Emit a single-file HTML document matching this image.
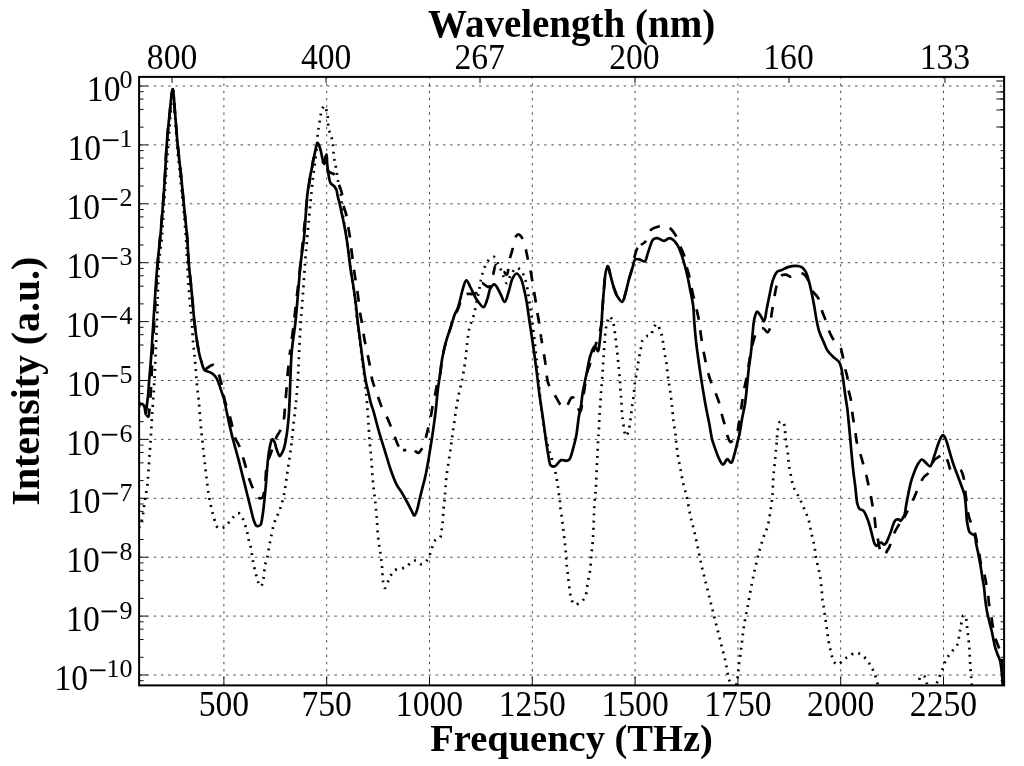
<!DOCTYPE html><html><head><meta charset="utf-8"><style>html,body{margin:0;padding:0;background:#fff;overflow:hidden}svg{display:block;will-change:transform}text{font-family:"Liberation Serif",serif;fill:#000}</style></head><body>
<svg width="1024" height="766" viewBox="0 0 1024 766">
<rect width="1024" height="766" fill="#fff"/>
<defs><clipPath id="pc"><rect x="139.1" y="76.9" width="865.0" height="608.5"/></clipPath></defs>
<path d="M223.90,685.4V76.9M326.70,685.4V76.9M429.50,685.4V76.9M532.30,685.4V76.9M635.10,685.4V76.9M737.90,685.4V76.9M840.70,685.4V76.9M943.50,685.4V76.9" stroke="#000" stroke-opacity="0.7" stroke-width="1" stroke-dasharray="2.5 4.73" stroke-dashoffset="0.6" fill="none"/>
<path d="M139.1,86.00H1004.1M139.1,144.90H1004.1M139.1,203.80H1004.1M139.1,262.70H1004.1M139.1,321.60H1004.1M139.1,380.50H1004.1M139.1,439.40H1004.1M139.1,498.30H1004.1M139.1,557.20H1004.1M139.1,616.10H1004.1M139.1,675.00H1004.1" stroke="#000" stroke-opacity="0.7" stroke-width="1" stroke-dasharray="2.5 4.73" stroke-dashoffset="7.05" fill="none"/>
<path d="M223.90,685.4v-8.5M326.70,685.4v-8.5M429.50,685.4v-8.5M532.30,685.4v-8.5M635.10,685.4v-8.5M737.90,685.4v-8.5M840.70,685.4v-8.5M943.50,685.4v-8.5M139.1,86.00h8.5M139.1,144.90h8.5M139.1,203.80h8.5M139.1,262.70h8.5M139.1,321.60h8.5M139.1,380.50h8.5M139.1,439.40h8.5M139.1,498.30h8.5M139.1,557.20h8.5M139.1,616.10h8.5M139.1,675.00h8.5" stroke="#000" stroke-opacity="0.95" stroke-width="1" fill="none"/>
<path d="M139.1,127.17h4.5M1004.1,127.17h-3.5M139.1,109.44h4.5M1004.1,109.44h-3.5M139.1,99.07h4.5M1004.1,99.07h-3.5M139.1,91.71h4.5M1004.1,91.71h-3.5M139.1,186.07h4.5M1004.1,186.07h-3.5M139.1,168.34h4.5M1004.1,168.34h-3.5M139.1,157.97h4.5M1004.1,157.97h-3.5M139.1,150.61h4.5M1004.1,150.61h-3.5M139.1,244.97h4.5M1004.1,244.97h-3.5M139.1,227.24h4.5M1004.1,227.24h-3.5M139.1,216.87h4.5M1004.1,216.87h-3.5M139.1,209.51h4.5M1004.1,209.51h-3.5M139.1,303.87h4.5M1004.1,303.87h-3.5M139.1,286.14h4.5M1004.1,286.14h-3.5M139.1,275.77h4.5M1004.1,275.77h-3.5M139.1,268.41h4.5M1004.1,268.41h-3.5M139.1,362.77h4.5M1004.1,362.77h-3.5M139.1,345.04h4.5M1004.1,345.04h-3.5M139.1,334.67h4.5M1004.1,334.67h-3.5M139.1,327.31h4.5M1004.1,327.31h-3.5M139.1,421.67h4.5M1004.1,421.67h-3.5M139.1,403.94h4.5M1004.1,403.94h-3.5M139.1,393.57h4.5M1004.1,393.57h-3.5M139.1,386.21h4.5M1004.1,386.21h-3.5M139.1,480.57h4.5M1004.1,480.57h-3.5M139.1,462.84h4.5M1004.1,462.84h-3.5M139.1,452.47h4.5M1004.1,452.47h-3.5M139.1,445.11h4.5M1004.1,445.11h-3.5M139.1,539.47h4.5M1004.1,539.47h-3.5M139.1,521.74h4.5M1004.1,521.74h-3.5M139.1,511.37h4.5M1004.1,511.37h-3.5M139.1,504.01h4.5M1004.1,504.01h-3.5M139.1,598.37h4.5M1004.1,598.37h-3.5M139.1,580.64h4.5M1004.1,580.64h-3.5M139.1,570.27h4.5M1004.1,570.27h-3.5M139.1,562.91h4.5M1004.1,562.91h-3.5M139.1,657.27h4.5M1004.1,657.27h-3.5M139.1,639.54h4.5M1004.1,639.54h-3.5M139.1,629.17h4.5M1004.1,629.17h-3.5M139.1,621.81h4.5M1004.1,621.81h-3.5M139.1,680.71h4.5M1004.1,680.71h-3.5M1004.1,81.00h-7.7M1004.1,92.00h-7.7M1004.1,99.00h-7.7M1004.1,110.00h-7.7M1004.1,127.00h-7.7M172.00,76.9v6M326.00,76.9v6M480.00,76.9v6M635.00,76.9v6M789.00,76.9v6M945.00,76.9v6" stroke="#000" stroke-opacity="0.95" stroke-width="1" fill="none"/>
<g clip-path="url(#pc)" fill="none" stroke="#000" stroke-width="2.7" stroke-linejoin="round">
<path d="M139.00,528.00 C139.80,525.90 140.75,523.87 141.40,521.70 C142.06,519.48 142.42,517.53 142.90,514.80 C143.58,510.88 144.07,505.22 144.80,500.40 C145.54,495.52 146.69,490.70 147.30,485.70 C147.93,480.57 148.09,475.55 148.50,470.00 C148.96,463.74 149.47,456.07 149.90,450.00 C150.26,444.92 150.59,440.96 150.90,436.00 C151.26,430.38 151.52,424.00 151.90,418.00 C152.28,412.00 152.79,406.13 153.20,400.00 C153.63,393.61 153.96,388.69 154.40,380.40 C155.16,366.05 156.22,341.24 157.00,321.60 C157.79,301.88 157.97,277.71 159.10,262.30 C159.82,252.41 161.03,246.79 161.80,238.00 C162.71,227.63 163.27,214.88 164.00,204.00 C164.67,193.95 165.31,184.75 166.00,175.00 C166.71,165.08 167.45,155.00 168.20,145.00 C168.95,135.00 169.71,124.54 170.50,115.00 C171.22,106.28 171.95,90.00 172.70,90.00 C173.45,90.00 174.29,106.28 175.00,115.00 C175.77,124.54 176.27,135.01 177.10,145.00 C177.93,155.01 179.01,165.09 180.00,175.00 C180.98,184.75 182.04,193.95 183.00,204.00 C184.04,214.88 185.29,227.61 186.00,238.00 C186.60,246.77 186.68,253.24 187.20,262.30 C187.87,273.81 188.87,290.60 189.80,301.50 C190.47,309.32 191.35,314.84 191.90,321.60 C192.46,328.44 192.57,336.02 193.10,342.30 C193.54,347.57 194.23,351.96 194.70,356.80 C195.17,361.63 195.51,366.50 195.90,371.30 C196.28,376.03 196.55,380.74 197.00,385.40 C197.45,390.00 198.09,393.99 198.60,399.10 C199.24,405.59 199.74,413.92 200.40,421.20 C201.04,428.32 201.70,434.80 202.50,442.30 C203.41,450.86 204.53,460.82 205.60,469.80 C206.63,478.44 207.45,487.38 208.80,495.20 C209.98,502.02 211.27,508.43 213.00,514.20 C214.51,519.23 215.66,526.50 218.30,528.00 C220.05,528.99 222.68,528.03 224.70,526.90 C227.36,525.42 229.64,520.90 232.10,518.50 C234.21,516.44 236.58,513.03 238.40,513.20 C240.06,513.36 241.45,516.21 242.70,518.50 C244.45,521.71 245.87,527.33 246.90,531.20 C247.75,534.37 248.02,537.21 248.70,540.00 C249.33,542.59 250.18,544.53 250.80,547.40 C251.64,551.25 252.02,556.55 252.90,561.10 C253.79,565.68 255.10,570.94 256.10,574.80 C256.84,577.65 257.27,580.14 258.20,582.20 C258.95,583.86 260.10,586.50 260.90,586.40 C261.90,586.28 262.74,581.88 263.40,579.00 C264.28,575.17 264.32,569.14 265.10,565.30 C265.68,562.43 266.53,560.81 267.20,557.90 C268.13,553.85 268.74,548.49 269.80,543.20 C271.06,536.92 272.51,528.65 274.40,522.70 C275.93,517.89 278.15,514.44 279.70,510.00 C281.34,505.30 282.73,500.62 283.90,495.20 C285.28,488.81 286.03,481.06 287.10,474.00 C288.17,466.96 289.31,460.41 290.30,452.90 C291.43,444.35 292.40,434.39 293.40,425.40 C294.36,416.77 295.44,407.97 296.20,400.00 C296.87,392.94 297.34,387.22 297.80,380.00 C298.34,371.50 298.61,361.69 299.10,352.20 C299.61,342.24 300.14,331.62 300.80,321.60 C301.44,311.90 302.29,302.70 303.00,293.00 C303.73,282.95 304.35,271.93 305.10,262.30 C305.76,253.72 306.49,245.99 307.20,238.00 C307.89,230.23 308.59,222.60 309.30,215.00 C309.99,207.53 310.76,199.31 311.40,192.80 C311.90,187.68 312.25,183.77 312.80,179.10 C313.38,174.18 314.14,169.32 314.80,164.00 C315.54,158.03 316.53,150.19 317.00,145.00 C317.33,141.42 317.35,138.63 317.60,135.90 C317.80,133.66 318.00,131.99 318.30,129.80 C318.65,127.24 319.15,124.24 319.60,121.50 C320.05,118.81 320.23,116.10 321.00,113.50 C321.78,110.86 323.26,105.78 324.30,105.80 C325.33,105.82 326.50,110.46 327.20,113.50 C328.15,117.60 327.73,124.21 328.60,128.40 C329.26,131.58 330.60,133.96 331.30,136.60 C331.93,138.98 332.30,140.80 332.70,143.50 C333.26,147.28 333.46,153.33 334.00,157.20 C334.41,160.08 334.93,162.19 335.40,164.70 C335.87,167.22 336.45,169.83 336.80,172.30 C337.13,174.62 337.06,176.84 337.50,179.10 C337.95,181.41 338.95,183.53 339.50,186.00 C340.12,188.78 340.48,191.61 340.90,195.00 C341.44,199.36 341.72,205.09 342.30,210.00 C342.86,214.75 343.58,219.34 344.30,224.00 C345.02,228.67 345.88,233.10 346.60,238.00 C347.39,243.39 348.11,249.57 348.80,255.00 C349.44,260.00 349.90,264.36 350.60,269.40 C351.38,274.98 352.49,281.36 353.30,287.00 C354.04,292.20 354.68,296.77 355.30,302.00 C355.98,307.72 356.49,313.77 357.20,320.00 C357.97,326.76 358.93,334.11 359.80,341.10 C360.66,348.01 361.52,354.95 362.40,361.70 C363.25,368.24 364.42,375.77 365.00,381.00 C365.40,384.56 365.50,386.69 365.80,390.00 C366.18,394.09 366.69,398.67 367.10,403.70 C367.60,409.87 368.03,417.44 368.50,424.30 C368.97,431.14 369.38,438.64 369.90,444.80 C370.33,449.86 370.88,453.62 371.30,458.60 C371.80,464.47 372.13,472.13 372.60,477.80 C372.98,482.33 373.36,486.10 373.80,490.00 C374.20,493.61 374.68,496.58 375.10,500.40 C375.62,505.07 376.12,510.36 376.60,516.00 C377.17,522.68 377.47,531.22 378.20,537.90 C378.82,543.58 379.84,548.50 380.50,553.60 C381.13,558.42 381.70,563.14 382.10,567.70 C382.48,571.99 382.34,576.54 382.90,580.20 C383.35,583.13 383.79,587.90 384.80,588.00 C386.12,588.13 388.62,578.72 390.70,575.50 C392.21,573.17 393.50,571.16 395.40,570.00 C397.20,568.90 399.77,569.06 401.70,568.50 C403.39,568.01 404.93,567.81 406.40,566.90 C408.10,565.84 409.40,563.26 411.10,562.20 C412.57,561.29 414.22,560.40 415.80,560.60 C417.62,560.83 419.48,564.21 421.30,564.20 C423.11,564.19 425.25,562.24 426.70,560.60 C428.29,558.80 429.26,555.91 430.20,553.60 C431.06,551.48 431.39,549.43 432.20,547.30 C433.07,545.00 433.80,541.88 435.30,540.30 C436.55,538.98 438.94,539.29 440.00,537.90 C441.30,536.19 441.15,532.71 441.60,530.10 C442.05,527.51 442.39,525.29 442.70,522.30 C443.11,518.30 443.22,512.42 443.60,508.20 C443.91,504.75 444.39,502.06 444.70,498.80 C445.03,495.28 445.21,491.53 445.50,487.80 C445.80,483.93 446.02,480.14 446.50,476.00 C447.04,471.36 447.97,466.11 448.70,461.30 C449.40,456.65 450.19,451.92 450.80,447.60 C451.34,443.74 451.67,440.47 452.20,436.60 C452.79,432.28 453.53,427.58 454.20,422.90 C454.90,417.99 455.49,412.76 456.30,407.80 C457.09,402.93 458.06,397.88 459.00,393.40 C459.83,389.45 460.81,386.00 461.60,382.30 C462.38,378.63 463.05,375.18 463.70,371.30 C464.43,366.99 465.13,362.17 465.70,357.60 C466.27,353.04 466.54,348.57 467.10,343.90 C467.69,338.98 468.33,332.66 469.20,328.80 C469.76,326.32 470.39,324.95 471.10,322.80 C471.93,320.28 473.05,317.64 473.90,314.60 C474.92,310.94 475.71,306.51 476.60,302.30 C477.54,297.86 478.48,293.18 479.40,288.60 C480.32,284.01 480.88,279.08 482.10,274.80 C483.21,270.90 484.60,266.83 486.20,263.90 C487.43,261.65 488.74,259.54 490.30,258.40 C491.54,257.49 493.20,256.51 494.40,257.00 C496.15,257.71 497.36,262.73 498.60,265.20 C499.61,267.21 500.44,268.74 501.30,270.70 C502.25,272.85 503.04,275.45 504.00,277.60 C504.88,279.56 505.78,283.11 506.80,283.10 C508.04,283.09 509.27,277.35 510.90,274.80 C512.48,272.33 514.46,268.37 516.40,268.00 C517.94,267.71 519.89,269.32 521.20,270.70 C522.74,272.33 523.63,274.98 524.60,277.60 C525.78,280.79 526.62,284.71 527.40,288.60 C528.26,292.90 528.72,297.73 529.40,302.30 C530.08,306.87 530.84,311.25 531.50,316.00 C532.21,321.12 532.83,326.43 533.50,332.00 C534.23,338.08 534.96,344.15 535.70,351.10 C536.59,359.43 537.50,369.44 538.40,378.60 C539.30,387.74 540.04,397.18 541.10,406.00 C542.09,414.28 543.14,422.41 544.50,430.00 C545.74,436.94 547.45,445.28 548.80,449.80 C549.53,452.24 550.27,453.26 550.90,455.30 C551.66,457.76 552.18,460.98 552.90,463.60 C553.56,465.99 554.43,468.11 555.00,470.40 C555.56,472.68 555.85,475.01 556.30,477.30 C556.75,479.58 557.35,481.82 557.70,484.10 C558.05,486.38 558.09,488.55 558.40,491.00 C558.76,493.81 559.50,497.28 559.80,500.00 C560.05,502.22 559.95,503.64 560.20,506.10 C560.59,509.89 561.58,515.69 562.20,520.50 C562.82,525.32 563.33,530.18 563.90,535.00 C564.47,539.81 565.16,544.66 565.60,549.40 C566.02,553.99 566.08,558.41 566.50,563.00 C566.94,567.74 567.63,572.60 568.20,577.40 C568.77,582.20 569.22,587.76 569.90,591.80 C570.40,594.78 570.73,597.27 571.60,599.50 C572.34,601.41 573.06,604.00 574.50,604.50 C576.07,605.05 579.11,603.28 580.90,602.00 C582.67,600.74 584.12,599.19 585.20,596.90 C586.76,593.60 586.88,587.90 587.70,583.30 C588.55,578.57 589.58,573.71 590.20,568.90 C590.81,564.11 590.96,559.23 591.40,554.50 C591.83,549.90 592.44,545.57 592.80,540.90 C593.18,535.95 593.38,530.62 593.60,525.60 C593.81,520.73 593.87,516.00 594.10,511.20 C594.33,506.40 594.65,500.71 595.00,496.80 C595.24,494.11 595.62,492.30 595.80,490.00 C595.99,487.64 595.98,485.64 596.10,482.80 C596.28,478.69 596.56,472.61 596.80,467.70 C597.03,463.02 597.27,458.68 597.50,454.00 C597.74,449.09 597.93,442.96 598.20,438.90 C598.38,436.15 598.62,434.79 598.80,432.00 C599.08,427.70 599.18,421.38 599.50,415.60 C599.86,409.12 600.55,400.10 600.90,395.00 C601.11,391.98 601.19,390.59 601.40,387.80 C601.69,383.94 602.17,378.70 602.50,374.00 C602.84,369.11 603.08,363.89 603.40,359.00 C603.71,354.30 604.05,349.79 604.40,345.20 C604.75,340.62 604.98,335.37 605.50,331.50 C605.88,328.61 606.23,326.47 606.90,324.00 C607.59,321.47 608.51,316.62 609.60,316.50 C610.58,316.39 612.20,319.86 613.00,321.90 C613.88,324.14 613.99,327.03 614.40,329.50 C614.79,331.83 615.11,333.97 615.40,336.30 C615.71,338.76 615.91,341.44 616.20,343.90 C616.48,346.23 616.84,348.37 617.10,350.70 C617.38,353.16 617.56,355.84 617.80,358.30 C618.03,360.63 618.27,362.77 618.50,365.10 C618.74,367.56 618.96,370.24 619.20,372.70 C619.43,375.03 619.72,377.17 619.90,379.50 C620.09,381.96 620.15,384.58 620.30,387.10 C620.45,389.61 620.60,392.25 620.80,394.60 C620.98,396.69 621.21,398.08 621.40,400.50 C621.70,404.37 621.71,410.70 622.20,415.60 C622.67,420.29 623.54,425.53 624.20,429.30 C624.67,431.97 624.81,435.95 625.60,436.10 C626.27,436.23 627.58,433.83 628.30,432.00 C629.45,429.08 629.81,423.69 630.40,419.70 C630.96,415.94 631.29,412.50 631.80,408.70 C632.35,404.62 633.07,400.32 633.60,396.00 C634.15,391.53 634.47,386.19 635.00,382.30 C635.40,379.39 635.85,377.22 636.30,374.70 C636.75,372.19 637.34,369.51 637.70,367.20 C638.01,365.23 638.10,363.71 638.40,361.70 C638.77,359.24 639.32,356.04 639.80,353.50 C640.22,351.28 640.66,349.42 641.10,347.30 C641.56,345.06 641.49,342.28 642.50,340.40 C643.42,338.69 645.10,337.12 646.60,336.30 C647.87,335.60 649.62,336.33 650.70,335.40 C652.17,334.13 652.33,330.11 653.50,328.10 C654.47,326.44 655.85,323.88 656.90,324.00 C658.16,324.15 659.37,328.57 660.30,330.90 C661.19,333.14 661.90,335.40 662.40,337.70 C662.89,339.97 662.97,342.25 663.30,344.60 C663.64,347.05 663.98,349.60 664.40,352.10 C664.82,354.60 665.38,357.15 665.80,359.60 C666.21,361.95 666.62,364.19 666.90,366.50 C667.18,368.79 667.23,371.06 667.50,373.40 C667.79,375.85 668.23,378.45 668.60,380.90 C668.96,383.25 669.37,385.51 669.70,387.80 C670.03,390.07 670.28,392.26 670.60,394.60 C670.94,397.09 671.41,399.80 671.70,402.30 C671.97,404.66 672.08,406.90 672.30,409.20 C672.52,411.50 672.77,413.75 673.00,416.10 C673.24,418.55 673.35,421.11 673.70,423.60 C674.05,426.11 674.75,428.64 675.10,431.10 C675.44,433.44 675.57,435.71 675.80,438.00 C676.03,440.28 676.24,442.47 676.50,444.80 C676.77,447.26 677.06,449.94 677.40,452.40 C677.73,454.73 678.09,456.93 678.50,459.20 C678.92,461.50 679.44,463.75 679.90,466.10 C680.38,468.55 680.84,471.15 681.30,473.60 C681.74,475.95 682.10,478.16 682.60,480.50 C683.13,482.95 683.74,485.53 684.40,488.00 C685.05,490.43 685.77,492.15 686.50,495.20 C687.72,500.33 688.98,509.65 690.40,516.10 C691.64,521.73 693.12,526.36 694.40,531.80 C695.77,537.63 697.00,543.92 698.30,550.00 C699.60,556.09 700.85,562.44 702.20,568.30 C703.46,573.74 704.80,578.77 706.10,584.00 C707.40,589.23 708.70,594.48 710.00,599.70 C711.30,604.91 712.59,610.09 713.90,615.30 C715.22,620.53 716.58,625.76 717.90,631.00 C719.22,636.23 720.50,641.48 721.80,646.70 C723.10,651.91 724.60,657.19 725.70,662.30 C726.75,667.18 727.42,672.86 728.30,676.70 C728.90,679.31 729.50,680.51 730.10,683.20 C731.06,687.48 731.90,699.98 733.00,700.00 C734.15,700.02 735.93,687.61 736.90,681.90 C737.76,676.85 738.03,672.74 738.70,667.50 C739.50,661.20 740.52,653.64 741.40,646.70 C742.28,639.74 742.92,632.75 744.00,625.80 C745.08,618.82 746.60,611.87 747.90,604.90 C749.20,597.93 750.46,590.73 751.80,584.00 C753.06,577.69 754.35,571.56 755.70,565.70 C756.96,560.26 758.22,554.97 759.60,550.00 C760.87,545.44 762.21,541.07 763.60,537.00 C764.85,533.32 766.44,530.31 767.50,526.60 C768.66,522.53 769.37,517.88 770.10,513.50 C770.83,509.14 771.46,504.00 771.90,500.40 C772.21,497.89 772.41,496.53 772.60,494.00 C772.87,490.33 772.86,484.44 773.10,480.50 C773.29,477.43 773.56,474.91 773.80,472.30 C774.02,469.90 774.27,467.69 774.50,465.40 C774.73,463.12 774.98,460.98 775.20,458.60 C775.45,455.97 775.65,452.93 775.90,450.30 C776.12,447.92 776.39,445.88 776.60,443.50 C776.83,440.87 776.96,437.75 777.20,435.20 C777.40,433.01 777.56,431.17 777.90,429.10 C778.25,426.94 778.46,423.67 779.30,422.50 C779.76,421.87 780.37,421.58 781.00,421.50 C781.71,421.41 782.79,421.54 783.40,422.20 C784.42,423.30 784.45,426.74 784.80,429.10 C785.16,431.54 785.26,434.15 785.50,436.60 C785.73,438.95 785.87,441.22 786.20,443.50 C786.53,445.78 787.17,447.96 787.50,450.30 C787.85,452.75 787.97,455.38 788.20,457.90 C788.43,460.41 788.54,462.96 788.90,465.40 C789.25,467.76 789.86,469.95 790.30,472.30 C790.76,474.74 791.06,477.34 791.60,479.80 C792.13,482.24 792.63,484.78 793.50,487.00 C794.32,489.09 795.56,490.85 796.60,492.80 C797.66,494.78 798.78,496.69 799.80,498.80 C800.89,501.05 801.86,503.54 802.90,505.90 C803.93,508.24 805.06,510.62 806.00,512.90 C806.88,515.04 807.74,517.02 808.40,519.20 C809.08,521.45 809.48,523.86 810.00,526.20 C810.52,528.56 810.98,530.94 811.50,533.30 C812.02,535.64 812.57,537.96 813.10,540.30 C813.64,542.66 814.32,545.03 814.70,547.40 C815.08,549.73 815.04,552.01 815.40,554.40 C815.79,556.96 816.45,559.75 817.00,562.30 C817.52,564.71 818.07,567.03 818.60,569.30 C819.10,571.46 819.72,573.37 820.10,575.60 C820.52,578.05 820.62,580.94 820.90,583.40 C821.15,585.61 821.49,587.47 821.70,589.70 C821.94,592.20 821.91,595.15 822.20,597.70 C822.46,600.07 822.94,602.19 823.30,604.50 C823.67,606.89 824.05,609.38 824.40,611.80 C824.75,614.18 825.06,616.50 825.40,618.90 C825.75,621.37 826.16,623.95 826.50,626.40 C826.83,628.75 827.07,630.95 827.40,633.30 C827.74,635.75 828.07,638.36 828.50,640.80 C828.91,643.15 829.40,645.40 829.90,647.70 C830.40,650.00 830.88,652.32 831.50,654.60 C832.12,656.89 832.42,659.68 833.60,661.40 C834.61,662.87 836.24,664.62 837.70,664.60 C839.41,664.57 841.29,661.41 843.20,660.00 C845.09,658.61 847.09,657.40 849.10,656.20 C851.12,655.00 853.18,652.98 855.30,652.80 C857.38,652.62 859.79,653.83 861.70,655.00 C863.67,656.20 865.37,658.15 866.90,660.00 C868.44,661.88 869.70,664.10 870.90,666.20 C872.06,668.24 873.08,670.23 874.00,672.40 C874.96,674.66 875.70,677.02 876.50,679.50 C877.37,682.20 877.65,684.58 879.00,688.00 C881.24,693.70 884.45,707.45 890.00,710.00 C895.08,712.34 905.27,709.11 910.00,705.00 C914.96,700.69 916.74,689.28 918.50,684.00 C919.53,680.91 919.20,677.65 920.50,676.50 C921.38,675.72 923.04,675.43 924.00,676.00 C925.50,676.89 926.12,680.83 927.00,684.00 C928.22,688.38 928.65,699.87 930.00,700.00 C931.10,700.11 932.72,693.14 934.00,690.00 C935.14,687.18 936.25,684.53 937.30,682.00 C938.24,679.72 939.12,677.67 940.00,675.50 C940.88,673.34 941.75,671.23 942.60,669.00 C943.49,666.67 944.19,664.05 945.20,661.80 C946.14,659.70 947.14,657.81 948.40,655.90 C949.72,653.90 951.47,652.04 953.00,650.10 C954.54,648.14 956.62,646.35 957.60,644.20 C958.53,642.16 958.48,639.90 958.90,637.60 C959.35,635.11 959.76,632.35 960.20,629.80 C960.63,627.35 961.06,624.94 961.50,622.60 C961.92,620.38 962.03,617.08 962.80,616.10 C963.16,615.64 963.67,615.50 964.10,615.50 C964.53,615.50 965.04,615.64 965.40,616.10 C966.21,617.15 966.37,620.89 966.70,623.30 C967.03,625.69 967.12,628.05 967.40,630.50 C967.69,633.05 968.11,635.75 968.40,638.30 C968.68,640.75 968.90,643.10 969.10,645.50 C969.30,647.90 969.45,650.31 969.60,652.70 C969.75,655.07 969.87,657.43 970.00,659.80 C970.13,662.19 970.25,664.60 970.40,667.00 C970.55,669.40 970.71,671.86 970.90,674.20 C971.08,676.42 971.30,677.96 971.50,680.70 C971.84,685.42 972.17,693.57 972.50,700.00" stroke-dasharray="1.9 5.3"/>
<path d="M139.00,405.50 C139.67,406.40 140.24,407.61 141.00,408.20 C141.61,408.67 142.40,408.56 143.00,409.00 C143.69,409.51 144.23,410.33 144.80,411.20 C145.51,412.28 146.09,414.12 146.80,415.10 C147.31,415.80 147.99,416.84 148.40,416.70 C149.16,416.44 149.11,411.67 149.40,409.00 C149.71,406.12 149.96,402.91 150.20,400.00 C150.42,397.26 150.61,395.04 150.80,392.00 C151.05,387.98 151.23,383.65 151.50,378.00 C151.91,369.32 152.43,356.16 153.00,345.00 C153.59,333.50 154.31,322.06 155.00,310.00 C155.74,297.11 156.41,282.58 157.30,270.00 C158.10,258.73 159.07,248.83 160.00,238.00 C160.96,226.84 162.14,214.89 163.00,204.00 C163.79,193.95 164.39,184.75 165.00,175.00 C165.62,165.09 165.95,154.99 166.70,145.00 C167.45,134.99 168.46,124.64 169.50,115.00 C170.47,106.02 171.75,88.99 172.70,89.00 C173.65,89.01 174.39,106.02 175.20,115.00 C176.07,124.64 176.73,135.01 177.70,145.00 C178.67,155.01 179.98,165.08 181.00,175.00 C182.01,184.75 182.81,193.95 183.80,204.00 C184.87,214.88 186.36,227.61 187.20,238.00 C187.91,246.77 188.02,253.94 188.70,262.30 C189.43,271.24 190.58,280.46 191.50,290.00 C192.48,300.18 193.43,312.79 194.40,321.60 C195.10,327.96 195.85,333.51 196.50,338.00 C196.96,341.14 197.33,343.34 197.80,346.00 C198.27,348.67 198.69,351.35 199.30,354.00 C199.92,356.68 200.63,359.40 201.50,362.00" stroke-dasharray="10.8 10.8" stroke-dashoffset="9.01"/>
<path d="M201.50,362.00 C202.36,364.57 203.12,369.02 204.50,369.50 C205.48,369.84 206.89,368.19 208.00,367.50 C209.05,366.85 210.00,365.91 211.00,365.50 C211.84,365.15 212.78,364.74 213.50,365.00 C214.31,365.29 214.84,366.51 215.50,367.50 C216.34,368.75 217.25,370.24 218.00,372.00 C218.96,374.24 219.75,377.32 220.50,380.00 C221.25,382.66 221.86,385.05 222.50,388.00 C223.28,391.58 223.63,395.69 224.70,400.00 C225.98,405.19 228.32,410.92 230.00,416.90 C231.87,423.54 233.31,432.72 235.30,438.10 C236.60,441.63 238.15,443.15 239.50,446.50 C241.36,451.12 243.17,458.02 244.80,463.50 C246.32,468.59 247.48,473.81 249.00,478.30 C250.31,482.16 251.56,485.59 253.20,488.90 C254.75,492.04 256.59,496.51 258.50,497.70 C259.62,498.40 261.08,498.62 262.00,498.00 C263.42,497.05 263.80,493.49 264.50,490.00 C265.75,483.78 265.54,469.82 267.00,463.50 C267.85,459.81 268.98,458.37 270.20,455.00 C271.97,450.12 274.40,441.62 276.50,437.00 C277.90,433.92 279.52,432.36 280.70,429.60 C282.05,426.45 283.18,422.73 283.90,419.00 C284.67,415.00 284.64,410.41 285.00,406.30 C285.34,402.42 285.61,399.53 286.00,395.00 C286.58,388.15 287.32,377.15 288.10,369.20 C288.77,362.35 289.47,356.77 290.30,350.10" stroke-dasharray="10.8 10.8" stroke-dashoffset="13.60"/>
<path d="M290.30,350.10 C291.22,342.74 292.50,334.26 293.40,326.90 C294.21,320.23 294.71,314.74 295.50,307.80 C296.44,299.46 297.65,289.64 298.70,280.30 C299.79,270.62 300.90,260.22 301.90,250.70 C302.83,241.83 303.64,233.51 304.50,225.00 C305.34,216.61 306.09,207.64 307.00,200.00 C307.78,193.50 308.61,187.62 309.50,182.00 C310.29,177.03 311.17,172.36 312.00,168.00 C312.73,164.16 312.69,159.03 314.20,157.20 C315.07,156.14 316.59,155.59 317.60,155.80 C318.63,156.02 319.36,157.56 320.30,158.60 C321.41,159.82 322.91,162.89 323.80,162.70 C324.83,162.48 325.26,155.76 325.80,155.80 C326.47,155.85 326.60,163.90 327.20,166.80 C327.61,168.75 327.75,170.56 328.60,171.60 C329.27,172.41 330.40,172.55 331.30,173.00 C332.20,173.45 333.22,173.55 334.00,174.30 C335.04,175.30 335.69,177.32 336.50,179.00 C337.40,180.86 338.26,182.79 339.10,185.00 C340.10,187.61 341.28,190.54 342.00,193.70 C342.82,197.30 342.72,201.78 343.50,205.50 C344.22,208.95 345.61,211.79 346.40,215.30 C347.29,219.23 347.77,224.16 348.40,228.00 C348.93,231.20 349.44,233.65 349.90,236.80 C350.43,240.44 350.74,244.06 351.30,248.60 C352.06,254.80 353.06,263.25 354.10,270.60 C355.15,278.02 356.53,285.46 357.60,292.90 C358.67,300.33 359.65,309.92 360.50,315.20 C360.97,318.13 361.33,319.24 361.80,322.00 C362.53,326.28 363.24,332.47 364.30,338.40 C365.57,345.50 367.68,354.30 369.10,361.70 C370.38,368.40 371.11,375.56 372.50,380.90 C373.53,384.85 374.91,387.86 376.00,391.00 C376.96,393.74 377.79,396.13 378.70,398.70 C379.62,401.29 380.31,403.72 381.50,406.50 C382.95,409.87 385.35,413.86 387.00,417.40 C388.52,420.68 389.77,423.67 391.10,427.00 C392.51,430.53 393.85,434.62 395.20,438.00 C396.38,440.95 397.19,444.11 398.70,446.20 C399.91,447.88 401.42,449.50 403.00,450.00" stroke-dasharray="10.8 10.8" stroke-dashoffset="10.36"/>
<path d="M403.00,450.00 C404.42,450.45 406.16,449.96 407.60,449.50 C409.06,449.03 410.40,447.01 411.70,447.20 C413.16,447.42 414.50,450.50 415.80,451.50 C416.74,452.22 417.67,453.15 418.50,453.00 C419.43,452.83 420.21,451.09 421.00,450.00 C421.85,448.83 422.68,447.82 423.40,446.20 C424.47,443.79 425.23,439.91 426.10,436.60 C427.03,433.09 427.98,429.22 428.80,425.70 C429.57,422.40 430.24,419.51 430.90,416.10 C431.65,412.24 432.24,407.40 433.00,403.70 C433.62,400.67 434.37,398.41 435.00,395.50 C435.71,392.22 436.16,388.26 437.00,385.00 C437.76,382.07 438.92,380.15 439.70,376.80 C440.87,371.78 441.24,363.85 442.40,357.60 C443.52,351.53 444.98,345.16 446.50,339.80 C447.79,335.26 449.53,331.37 450.70,327.40 C451.76,323.80 452.28,319.61 453.30,317.00 C453.97,315.30 454.75,314.15 455.50,313.00 C456.12,312.04 456.74,311.70 457.40,310.50 C458.67,308.19 460.13,302.08 461.50,299.50 C462.33,297.94 463.03,296.94 464.00,296.00 C464.89,295.14 465.78,294.37 467.00,294.00 C468.50,293.55 470.82,294.26 472.50,294.00 C473.99,293.77 475.59,293.72 476.60,292.70 C477.90,291.38 477.57,287.46 478.70,285.80 C479.58,284.51 480.89,283.15 482.10,283.10 C483.38,283.04 484.94,285.08 486.20,285.80 C487.20,286.38 488.15,287.55 489.00,287.20 C490.73,286.48 491.91,278.68 493.10,274.80 C494.14,271.41 494.57,265.36 495.80,265.20 C496.90,265.05 498.22,271.14 499.90,272.10 C501.10,272.79 502.84,271.63 504.00,272.10 C505.13,272.56 506.03,275.05 506.80,274.80 C508.33,274.31 508.46,264.22 509.50,259.80 C510.34,256.22 511.43,253.62 512.30,250.20 C513.28,246.35 513.52,240.51 515.00,237.80 C515.91,236.13 517.29,234.48 518.40,234.40 C519.35,234.33 520.33,235.34 521.20,236.50 C522.78,238.61 524.25,243.84 525.30,247.40 C526.27,250.67 526.61,253.44 527.40,257.00 C528.39,261.47 529.80,266.94 530.80,272.10 C531.84,277.46 532.65,283.50 533.50,288.60 C534.24,293.00 535.00,297.00 535.60,300.90 C536.15,304.43 536.45,307.57 537.00,311.00 C537.58,314.59 538.37,318.02 539.00,322.00 C539.75,326.69 540.23,331.67 541.10,337.40" stroke-dasharray="10.8 10.8" stroke-dashoffset="7.59"/>
<path d="M541.10,337.40 C542.20,344.67 544.01,354.23 545.20,362.10 C546.28,369.27 546.56,377.89 548.00,382.70 C548.83,385.49 549.87,386.96 551.00,389.00 C552.14,391.06 553.44,392.75 554.80,395.00 C556.49,397.81 558.60,402.21 560.30,404.60 C561.43,406.19 562.40,408.01 563.50,408.30 C564.31,408.51 565.26,408.02 566.00,407.40 C567.02,406.54 567.65,404.53 568.50,403.00 C569.42,401.34 570.29,398.53 571.30,397.80 C571.84,397.41 572.51,397.28 573.00,397.50 C573.63,397.79 574.01,399.06 574.50,400.00 C575.09,401.14 575.47,402.40 576.20,403.90 C577.24,406.03 579.32,411.62 580.30,411.50 C581.17,411.40 581.50,407.41 582.00,405.00 C582.61,402.04 582.84,399.07 583.50,395.00 C584.54,388.59 586.40,375.54 587.80,370.30 C588.48,367.77 589.06,367.09 589.80,364.80 C591.00,361.08 592.46,355.07 594.00,350.00 C595.64,344.59 598.09,338.13 599.40,333.30 C600.38,329.69 601.03,327.08 601.50,323.70 C602.01,320.01 601.90,316.40 602.20,312.00 C602.59,306.28 603.11,298.94 603.70,292.30 C604.30,285.51 604.74,276.33 605.80,271.70 C606.36,269.24 607.11,266.18 607.80,266.20 C608.70,266.23 609.64,272.39 610.60,275.80 C611.69,279.67 612.74,284.53 614.00,288.20 C615.05,291.25 615.94,294.04 617.40,296.40 C618.73,298.54 620.88,302.15 622.20,301.90 C623.76,301.61 624.63,295.82 625.70,292.30 C626.96,288.17 627.90,282.90 629.10,278.60 C630.18,274.72 631.53,271.42 632.50,267.60 C633.52,263.57 634.05,258.50 635.00,255.00 C635.70,252.42 636.16,250.13 637.30,248.40 C638.27,246.93 639.68,246.11 641.00,245.00" stroke-dasharray="10.8 10.8" stroke-dashoffset="4.58"/>
<path d="M641.00,245.00 C642.40,243.81 644.16,243.22 645.50,241.50 C647.44,239.02 648.45,232.86 650.30,230.60 C651.44,229.21 652.64,228.68 654.00,228.00 C655.40,227.30 657.07,226.92 658.60,226.50 C660.07,226.09 661.44,225.46 663.00,225.50 C664.80,225.54 666.96,225.91 668.80,227.10 C671.27,228.69 673.87,232.34 675.70,235.40 C677.54,238.47 678.40,242.20 679.80,245.50 C681.17,248.73 682.84,251.53 684.00,255.00 C685.31,258.94 685.99,263.96 687.00,268.00 C687.89,271.56 688.86,274.37 689.70,278.00 C690.68,282.26 691.34,287.12 692.40,292.00 C693.57,297.40 695.33,303.87 696.50,309.00 C697.47,313.23 698.30,316.56 699.00,320.60 C699.76,324.96 700.05,329.28 700.80,334.30 C701.71,340.45 702.79,347.76 704.20,354.80 C705.71,362.37 707.55,371.40 709.70,378.20 C711.43,383.68 713.84,388.35 715.50,392.70 C716.84,396.22 717.99,398.91 719.00,402.30 C720.09,405.98 720.75,410.30 721.70,414.00 C722.56,417.37 723.52,420.24 724.40,423.60 C725.36,427.28 726.00,431.89 727.20,435.20 C728.16,437.86 729.34,441.95 730.60,442.10 C731.65,442.22 732.94,439.61 734.00,438.00 C735.28,436.06 736.70,433.45 737.50,431.10 C738.26,428.88 738.34,426.96 738.80,424.30 C739.45,420.53 740.28,414.76 740.90,410.60 C741.42,407.12 741.80,404.31 742.30,401.00 C742.83,397.46 743.32,393.74 744.00,390.00 C744.71,386.08 745.73,382.09 746.50,378.00 C747.30,373.76 747.93,369.49 748.70,365.00 C749.53,360.18 750.37,354.48 751.30,350.00 C752.06,346.32 752.85,342.89 753.70,340.00 C754.37,337.73 754.97,335.88 755.80,334.00 C756.58,332.22 757.17,329.95 758.50,329.00 C759.73,328.12 761.87,327.74 763.30,328.20" stroke-dasharray="10.8 10.8" stroke-dashoffset="4.15"/>
<path d="M763.30,328.20 C764.86,328.70 766.30,332.38 767.40,332.30 C768.26,332.24 768.92,330.91 769.50,329.50 C770.70,326.55 770.72,319.53 771.50,314.40 C772.31,309.04 773.43,302.92 774.30,298.00 C775.01,293.97 775.40,290.22 776.30,287.00 C777.04,284.36 777.99,282.05 779.00,280.00 C779.85,278.26 780.54,276.26 781.80,275.40 C782.91,274.65 784.50,274.54 785.90,274.70 C787.46,274.88 789.07,276.76 790.70,276.70 C792.44,276.63 794.15,274.57 796.00,274.00 C797.82,273.44 800.02,272.89 801.70,273.30 C803.26,273.68 804.68,274.84 805.80,276.10 C807.04,277.50 807.62,279.42 808.60,281.50 C809.89,284.22 811.01,288.26 812.70,291.10 C814.26,293.71 816.70,295.13 818.20,298.00 C820.11,301.65 821.00,307.93 822.30,311.70 C823.24,314.41 824.04,315.96 825.00,318.60 C826.27,322.10 827.59,327.26 829.10,330.90 C830.37,333.96 831.57,336.82 833.20,339.10 C834.61,341.07 836.70,342.54 838.00,344.00 C838.97,345.10 839.73,345.66 840.40,347.00 C841.39,348.97 841.80,352.04 842.50,355.10 C843.40,359.06 844.30,364.83 845.20,368.80 C845.90,371.89 846.75,373.89 847.30,377.00 C848.01,380.96 848.02,386.72 848.70,390.70 C849.23,393.83 850.16,395.94 850.70,399.00 C851.35,402.68 851.60,407.46 852.10,411.30 C852.54,414.70 852.98,417.50 853.50,420.90 C854.09,424.75 854.91,429.35 855.50,433.20 C856.02,436.60 856.16,439.56 856.90,442.80 C857.69,446.25 859.18,449.87 860.20,453.30 C861.17,456.56 861.95,459.50 862.90,462.90 C863.97,466.75 865.35,471.34 866.30,475.20 C867.14,478.59 867.66,481.40 868.40,484.80 C869.24,488.67 870.38,493.49 871.10,497.20 C871.68,500.21 871.99,502.38 872.50,505.40 C873.13,509.11 874.07,513.93 874.60,517.80 C875.06,521.17 875.11,524.04 875.60,527.30 C876.12,530.82 877.01,534.62 877.70,538.20 C878.37,541.68 878.83,545.64 879.70,548.50 C880.35,550.66 880.91,552.88 882.00,554.00 C882.79,554.82 884.11,555.59 884.90,555.30 C885.87,554.95 886.24,552.45 887.00,551.00 C887.80,549.48 888.76,548.31 889.60,546.40 C890.83,543.59 891.64,538.96 893.10,535.50 C894.52,532.13 896.34,528.91 898.20,525.90 C899.98,523.02 902.26,520.69 904.00,517.80" stroke-dasharray="10.8 10.8" stroke-dashoffset="0.11"/>
<path d="M904.00,517.80 C905.81,514.80 907.15,511.51 908.80,508.20 C910.57,504.66 912.72,500.62 914.30,497.20 C915.65,494.29 916.46,491.91 917.80,489.00 C919.37,485.58 921.12,480.91 923.20,478.00 C924.86,475.68 927.06,474.89 928.70,472.50 C930.86,469.36 931.94,463.03 934.20,460.20 C935.81,458.18 938.10,457.35 939.70,456.10 C940.98,455.09 941.98,453.10 943.10,453.30 C944.74,453.59 946.62,458.69 947.90,461.50 C949.13,464.20 949.14,468.32 950.70,469.80 C951.81,470.86 953.49,470.96 955.00,471.00 C956.67,471.04 958.92,469.09 960.30,469.80 C962.06,470.71 962.91,474.93 963.70,478.00 C964.64,481.63 964.62,486.46 965.10,490.30 C965.52,493.70 965.91,496.34 966.40,499.90 C967.01,504.37 967.56,510.79 968.50,515.00 C969.20,518.12 970.11,520.54 971.00,523.00 C971.79,525.16 972.75,526.99 973.50,529.00 C974.24,530.99 974.96,532.90 975.50,535.00 C976.07,537.22 976.28,539.33 976.80,542.00 C977.50,545.57 978.69,550.62 979.40,554.50 C980.02,557.85 980.12,560.64 980.90,563.90 C981.78,567.57 983.69,571.85 984.60,575.40 C985.36,578.37 985.65,580.65 986.20,583.70 C986.87,587.44 987.85,592.66 988.30,596.20 C988.63,598.80 988.54,600.32 988.90,603.00 C989.43,606.92 990.81,613.13 991.50,617.40 C992.05,620.80 992.17,623.26 992.80,626.60 C993.57,630.66 994.82,636.14 996.00,640.00 C996.93,643.04 998.09,645.41 999.00,648.00 C999.84,650.40 1000.79,652.26 1001.30,655.00 C1001.99,658.69 1001.78,663.88 1002.00,668.30 C1002.22,672.68 1002.31,677.49 1002.60,681.40 C1002.84,684.57 1003.20,687.13 1003.50,690.00" stroke-dasharray="10.8 10.8" stroke-dashoffset="2.55"/>
<path d="M139.00,403.50 C140.00,403.67 141.15,403.59 142.00,404.00 C142.80,404.39 143.50,404.98 144.00,405.80 C144.64,406.84 144.83,408.58 145.10,410.00 C145.37,411.42 145.39,414.29 145.60,414.30 C145.80,414.31 146.09,411.94 146.30,410.50 C146.57,408.63 146.74,406.28 147.00,404.00 C147.29,401.47 147.69,399.11 148.00,396.00 C148.44,391.66 148.73,386.37 149.20,380.40 C149.84,372.34 150.81,361.63 151.50,352.00 C152.21,342.04 152.74,331.83 153.40,321.60 C154.07,311.17 154.78,300.18 155.50,290.00 C156.18,280.46 156.78,271.23 157.60,262.30 C158.36,253.93 159.37,246.78 160.20,238.00 C161.18,227.62 162.18,214.89 163.00,204.00 C163.76,193.95 164.39,184.75 165.00,175.00 C165.62,165.09 165.95,154.99 166.70,145.00 C167.45,134.99 168.46,124.64 169.50,115.00 C170.47,106.02 171.75,88.99 172.70,89.00 C173.65,89.01 174.39,106.02 175.20,115.00 C176.07,124.64 176.73,135.01 177.70,145.00 C178.67,155.01 179.98,165.08 181.00,175.00 C182.01,184.75 182.81,193.95 183.80,204.00 C184.87,214.88 186.36,227.61 187.20,238.00 C187.91,246.77 188.02,253.94 188.70,262.30 C189.43,271.24 190.58,280.46 191.50,290.00 C192.48,300.18 193.43,312.79 194.40,321.60 C195.10,327.96 195.85,333.51 196.50,338.00 C196.96,341.14 197.33,343.34 197.80,346.00 C198.27,348.67 198.69,351.35 199.30,354.00 C199.92,356.68 200.64,359.35 201.50,362.00 C202.37,364.69 202.88,368.33 204.50,370.00 C205.80,371.34 208.04,371.31 209.60,372.10 C211.02,372.82 212.35,373.48 213.50,374.50 C214.70,375.56 215.71,376.92 216.60,378.40 C217.57,380.02 218.25,381.94 219.00,383.90 C219.83,386.07 220.52,388.56 221.30,390.90 C222.09,393.26 222.87,395.00 223.70,398.00 C225.06,402.95 226.56,411.51 228.00,418.00 C229.36,424.16 230.51,429.64 232.10,436.00 C233.91,443.26 236.33,451.28 238.40,459.20 C240.56,467.47 242.68,476.13 244.80,484.60 C246.92,493.06 249.38,503.28 251.10,510.00 C252.23,514.43 252.92,518.11 254.00,521.00 C254.75,523.00 255.40,525.24 256.40,525.90 C257.02,526.31 257.82,526.16 258.50,526.00 C259.23,525.83 260.03,525.58 260.60,524.80 C261.71,523.29 261.98,519.05 262.50,516.00 C263.06,512.74 263.34,509.82 263.80,505.80 C264.45,500.02 265.23,491.99 265.90,484.60 C266.63,476.52 267.17,466.28 268.00,459.20 C268.60,454.07 269.12,449.66 270.00,446.00 C270.65,443.30 271.38,439.25 272.30,439.10 C272.95,438.99 273.87,440.76 274.50,442.00 C275.37,443.71 275.68,446.44 276.50,448.70 C277.39,451.13 278.61,455.97 279.70,456.10 C280.45,456.19 281.32,454.16 282.00,453.00 C282.74,451.72 283.29,450.65 283.90,448.70 C285.06,444.95 286.28,437.36 287.10,431.70 C287.91,426.13 288.38,420.42 288.80,415.00 C289.20,409.87 289.29,406.41 289.60,400.00 C290.16,388.56 290.51,366.34 291.70,352.20 C292.65,340.85 294.23,333.48 295.50,321.60 C297.26,305.09 299.10,277.72 300.80,262.30 C301.89,252.41 303.04,247.26 304.00,238.00 C305.28,225.71 306.14,205.52 307.30,195.00 C307.98,188.87 308.59,185.25 309.40,180.50 C310.19,175.86 311.20,171.37 312.10,166.80 C313.00,162.23 313.81,157.33 314.80,153.10 C315.67,149.41 316.56,142.88 317.60,142.80 C318.43,142.74 319.49,146.54 320.30,149.00 C321.40,152.36 322.20,158.72 323.10,161.30 C323.54,162.56 323.98,164.05 324.40,164.00 C325.15,163.91 326.03,154.37 326.50,154.40 C326.96,154.43 326.87,160.70 327.20,164.00 C327.55,167.55 327.97,171.62 328.60,175.00 C329.15,177.95 329.41,181.30 330.60,183.20 C331.46,184.57 333.03,184.89 334.00,186.00 C335.01,187.15 335.91,188.49 336.50,190.00 C337.16,191.68 337.14,193.66 337.60,195.70 C338.14,198.10 338.97,200.82 339.60,203.50 C340.27,206.34 340.83,209.16 341.50,212.30 C342.28,215.92 343.20,219.92 344.00,224.00 C344.87,228.45 345.73,233.10 346.50,238.00 C347.34,243.38 348.09,249.57 348.80,255.00 C349.45,260.00 349.87,264.37 350.60,269.40 C351.41,274.98 352.64,281.36 353.50,287.00 C354.29,292.19 354.96,296.77 355.60,302.00 C356.30,307.72 356.77,313.77 357.50,320.00 C358.29,326.76 359.29,334.11 360.20,341.10 C361.09,348.01 361.97,354.96 362.90,361.70 C363.80,368.22 364.72,375.70 365.70,380.90 C366.38,384.51 367.15,387.17 367.80,390.00 C368.37,392.49 368.82,394.59 369.40,397.00 C370.02,399.58 370.69,402.58 371.40,405.00 C372.00,407.05 372.55,408.13 373.30,410.60 C374.72,415.28 376.91,424.51 378.80,431.10 C380.58,437.29 382.36,442.73 384.30,449.00 C386.44,455.93 388.82,464.49 391.10,470.90 C392.93,476.04 394.60,480.74 396.60,484.60 C398.19,487.68 399.96,489.62 401.70,492.50 C403.71,495.84 406.09,500.13 407.90,503.50 C409.41,506.31 410.75,509.07 411.90,511.30 C412.77,512.98 413.42,515.69 414.20,515.70 C414.99,515.71 415.86,513.20 416.60,511.30 C417.79,508.25 418.67,502.97 419.70,498.80 C420.73,494.63 421.88,489.89 422.80,486.30 C423.50,483.57 424.05,481.89 424.70,479.10 C425.60,475.27 426.62,470.18 427.50,465.40 C428.46,460.19 429.30,454.59 430.20,449.00 C431.14,443.17 432.11,437.27 433.00,431.10 C433.95,424.50 434.90,417.45 435.70,410.60 C436.50,403.75 437.05,396.10 437.80,390.00 C438.40,385.11 439.02,381.61 439.70,376.80 C440.53,371.00 441.24,363.85 442.40,357.60 C443.52,351.53 444.98,345.16 446.50,339.80 C447.79,335.26 449.34,331.58 450.70,327.40 C452.08,323.15 453.36,317.84 454.70,314.50 C455.60,312.27 456.58,311.20 457.40,309.10 C458.46,306.40 459.31,302.81 460.20,299.50 C461.15,295.99 461.81,291.95 462.90,288.60 C463.88,285.61 464.96,280.39 466.30,280.30 C467.68,280.21 469.49,285.62 471.10,288.60 C472.92,291.96 474.41,296.32 476.60,299.50 C478.60,302.42 481.66,307.38 483.50,307.10 C485.30,306.82 486.47,301.27 487.60,298.20 C488.74,295.10 488.90,291.02 490.30,288.60 C491.37,286.74 493.02,284.27 494.40,284.40 C496.20,284.57 498.20,289.81 499.90,292.70 C501.64,295.67 503.24,302.08 504.70,302.00 C506.22,301.92 507.56,295.02 508.80,291.30 C510.11,287.37 510.73,282.18 512.30,279.00 C513.45,276.67 514.97,273.60 516.40,273.50 C517.71,273.40 519.37,275.72 520.50,277.60 C522.10,280.25 522.90,284.71 523.90,288.60 C525.00,292.89 525.90,297.72 526.70,302.30 C527.50,306.86 528.01,311.36 528.70,316.00 C529.41,320.79 530.09,325.17 530.90,330.60 C531.92,337.46 533.26,346.38 534.30,353.90 C535.28,360.95 536.13,367.56 537.00,374.40 C537.87,381.26 538.57,388.14 539.50,395.00 C540.43,401.87 541.62,408.74 542.60,415.60 C543.58,422.44 544.45,429.50 545.40,436.10 C546.29,442.27 547.06,448.70 548.10,454.00 C548.94,458.30 549.10,463.92 550.90,465.60 C551.96,466.59 553.62,466.75 555.00,466.30 C557.00,465.65 558.92,460.85 561.10,460.10 C562.84,459.50 565.10,461.05 566.60,460.80 C567.72,460.61 568.55,460.38 569.40,459.40 C571.12,457.41 572.34,451.11 573.50,447.10 C574.58,443.35 575.39,440.36 576.20,436.10 C577.30,430.35 578.05,421.14 579.00,415.60 C579.66,411.79 580.44,409.39 581.00,406.00 C581.63,402.23 581.78,398.47 582.50,394.00 C583.43,388.25 585.06,380.90 586.40,374.40 C587.73,367.96 588.80,360.31 590.50,355.20 C591.70,351.59 593.18,346.43 594.60,346.30 C595.70,346.20 597.20,351.27 598.00,351.10 C598.86,350.92 598.96,347.19 599.40,344.30 C600.17,339.30 601.02,329.61 601.50,323.70 C601.86,319.26 601.90,316.40 602.20,312.00 C602.59,306.28 603.11,298.94 603.70,292.30 C604.30,285.51 604.74,276.33 605.80,271.70 C606.36,269.24 607.11,266.18 607.80,266.20 C608.70,266.23 609.64,272.39 610.60,275.80 C611.69,279.67 612.74,284.53 614.00,288.20 C615.05,291.25 615.94,294.04 617.40,296.40 C618.73,298.54 620.88,302.15 622.20,301.90 C623.76,301.61 624.63,295.82 625.70,292.30 C626.96,288.17 627.90,282.90 629.10,278.60 C630.18,274.72 631.42,270.99 632.50,267.60 C633.44,264.66 633.65,260.52 635.20,259.40 C636.28,258.62 637.94,259.14 639.40,259.40 C641.11,259.71 643.46,262.01 644.80,261.40 C646.38,260.68 646.70,256.46 647.60,253.90 C648.54,251.24 649.32,248.22 650.30,245.70 C651.17,243.46 651.73,240.74 653.10,239.50 C654.19,238.51 655.67,238.05 657.20,238.10 C659.19,238.16 661.87,240.99 664.00,240.90 C665.95,240.82 667.80,238.10 669.50,238.10 C670.97,238.10 672.33,239.14 673.60,240.20 C675.15,241.50 676.59,243.59 677.80,245.70 C679.17,248.08 680.13,250.95 681.20,253.90 C682.41,257.25 683.57,261.14 684.60,264.80 C685.63,268.44 686.52,271.92 687.40,275.80 C688.37,280.10 689.18,284.72 690.10,289.50 C691.11,294.74 692.52,300.65 693.20,306.00 C693.84,311.00 693.79,315.32 694.20,320.60 C694.69,326.86 695.25,334.27 696.00,341.10 C696.75,347.97 697.77,354.96 698.70,361.70 C699.60,368.22 700.56,374.89 701.50,380.90 C702.33,386.24 703.14,391.01 704.00,396.00 C704.84,400.91 705.69,405.82 706.60,410.60 C707.49,415.25 708.50,419.62 709.40,424.30 C710.34,429.21 711.03,435.16 712.10,439.40 C712.90,442.58 713.76,444.68 714.80,447.60 C716.01,451.01 717.42,455.54 719.00,458.60 C720.25,461.01 721.71,464.67 723.10,464.70 C724.44,464.73 725.74,459.36 727.20,459.20 C728.49,459.05 730.21,462.97 731.30,462.70 C732.58,462.38 733.17,458.40 734.00,455.80 C735.03,452.59 735.88,448.46 736.80,444.80 C737.71,441.16 738.66,437.93 739.50,433.90 C740.52,428.99 741.34,422.64 742.30,417.40 C743.18,412.62 744.26,408.44 745.00,403.70 C745.78,398.66 746.21,393.47 746.80,388.00 C747.45,382.02 747.96,375.53 748.70,369.20 C749.46,362.73 750.65,355.66 751.30,349.60 C751.86,344.38 752.00,340.00 752.50,335.00 C753.03,329.69 753.34,322.85 754.40,318.60 C755.11,315.75 755.95,311.89 757.10,311.70 C758.08,311.53 759.50,314.29 760.60,315.80 C761.81,317.46 763.07,321.46 764.00,321.30 C765.30,321.08 765.81,313.22 766.70,309.00 C767.64,304.54 768.49,299.89 769.50,295.20 C770.55,290.30 771.41,284.39 772.90,280.20 C774.05,276.95 775.27,273.49 777.00,271.90 C778.19,270.81 779.57,270.95 781.10,270.30 C783.11,269.44 785.55,267.85 788.00,267.10 C790.56,266.32 793.75,265.71 796.20,265.80 C798.22,265.88 800.13,266.14 801.70,267.10 C803.36,268.11 804.70,269.96 805.80,271.90 C807.10,274.19 807.73,277.23 808.60,280.20 C809.58,283.57 810.44,287.25 811.30,291.10 C812.25,295.40 813.12,300.02 814.00,304.80 C814.96,310.04 815.78,316.37 816.80,321.30 C817.64,325.35 818.33,328.80 819.50,332.30 C820.62,335.66 822.20,338.75 823.60,341.90 C824.97,344.98 825.98,348.32 827.80,351.00 C829.57,353.60 832.25,355.86 834.30,357.80 C835.98,359.39 837.96,360.26 839.10,361.90 C840.20,363.48 840.51,365.17 841.10,367.40 C841.96,370.67 842.54,375.46 843.20,379.80 C843.92,384.56 844.50,389.91 845.20,394.80 C845.87,399.50 846.72,404.00 847.30,408.60 C847.88,413.17 848.25,417.73 848.70,422.30 C849.15,426.87 849.57,431.36 850.00,436.00 C850.44,440.79 850.81,445.32 851.30,450.60 C851.88,456.86 852.57,464.64 853.30,471.10 C853.95,476.90 854.72,482.11 855.40,487.60 C856.08,493.07 856.36,500.21 857.40,504.00 C857.98,506.13 858.41,507.64 859.50,508.80 C860.52,509.89 862.45,509.73 863.60,510.90 C865.09,512.41 865.99,515.37 867.00,517.80 C868.07,520.38 868.92,523.05 869.80,526.00 C870.80,529.36 871.72,533.70 872.60,536.90 C873.30,539.44 873.68,542.15 874.60,543.70 C875.19,544.70 876.01,545.81 876.70,545.80 C877.38,545.79 877.91,544.22 878.70,543.70 C879.48,543.18 880.52,542.58 881.40,542.70 C882.36,542.83 883.36,544.74 884.20,544.70 C884.94,544.67 885.60,543.80 886.20,543.00 C887.04,541.87 887.57,539.95 888.30,538.20 C889.16,536.14 890.13,533.79 891.00,531.40 C891.94,528.81 892.72,525.30 893.70,523.20 C894.36,521.77 894.89,520.40 895.80,519.80 C896.55,519.30 897.69,519.22 898.50,519.40 C899.28,519.58 899.95,520.89 900.60,520.80 C901.33,520.69 901.98,519.30 902.60,518.40 C903.29,517.39 903.98,516.48 904.50,515.00 C905.32,512.66 905.51,508.71 906.10,505.40 C906.73,501.85 907.43,498.16 908.20,494.40 C909.02,490.41 909.90,485.76 910.90,482.10 C911.73,479.07 912.52,476.71 913.60,473.90 C914.79,470.80 916.20,466.86 917.80,464.30 C919.04,462.31 920.47,459.62 921.90,459.50 C923.21,459.39 924.63,461.77 926.00,462.90 C927.37,464.03 928.90,466.60 930.10,466.30 C931.82,465.86 932.89,459.69 934.20,456.10 C935.63,452.19 936.88,447.28 938.30,443.70 C939.43,440.85 940.64,437.48 941.80,436.20 C942.37,435.58 942.96,435.05 943.50,435.20 C944.36,435.44 945.12,437.75 945.90,439.60 C947.08,442.40 948.12,446.73 949.30,450.60 C950.61,454.91 951.96,460.02 953.40,464.30 C954.70,468.16 956.14,471.56 957.50,475.20 C958.87,478.86 960.38,482.79 961.60,486.20 C962.64,489.13 963.69,491.28 964.40,494.40 C965.29,498.32 965.60,503.60 966.00,508.00 C966.38,512.12 966.40,516.65 966.80,520.00 C967.09,522.44 967.44,524.26 967.90,526.30 C968.34,528.26 968.61,530.65 969.50,532.00 C970.17,533.01 971.21,533.47 972.10,534.10 C972.95,534.70 974.05,534.74 974.70,535.70 C975.79,537.29 975.67,541.33 976.20,544.00 C976.70,546.52 977.28,548.78 977.80,551.30 C978.35,554.00 978.88,556.91 979.40,559.70 C979.91,562.47 980.41,565.07 980.90,568.00 C981.45,571.29 981.95,575.10 982.50,578.50 C983.02,581.72 983.65,584.56 984.10,587.90 C984.61,591.67 984.82,596.08 985.30,600.00 C985.76,603.73 986.21,607.22 986.90,610.90 C987.62,614.75 988.69,618.81 989.60,622.60 C990.46,626.20 991.37,629.40 992.20,633.10 C993.12,637.19 993.81,642.33 994.80,646.10 C995.59,649.09 996.49,651.51 997.40,654.00 C998.23,656.29 999.36,658.20 1000.00,660.50 C1000.68,662.95 1000.91,665.36 1001.30,668.30 C1001.80,672.10 1002.20,677.49 1002.60,681.40 C1002.92,684.57 1003.20,687.13 1003.50,690.00" stroke-linecap="round"/>
</g>
<rect x="139.1" y="76.9" width="865.00" height="608.50" fill="none" stroke="#000" stroke-width="2.0"/>
<text transform="translate(223.90,716.3) scale(0.935,1)" font-size="36" text-anchor="middle">500</text>
<text transform="translate(326.70,716.3) scale(0.935,1)" font-size="36" text-anchor="middle">750</text>
<text transform="translate(429.50,716.3) scale(0.935,1)" font-size="36" text-anchor="middle">1000</text>
<text transform="translate(532.30,716.3) scale(0.935,1)" font-size="36" text-anchor="middle">1250</text>
<text transform="translate(635.10,716.3) scale(0.935,1)" font-size="36" text-anchor="middle">1500</text>
<text transform="translate(737.90,716.3) scale(0.935,1)" font-size="36" text-anchor="middle">1750</text>
<text transform="translate(840.70,716.3) scale(0.935,1)" font-size="36" text-anchor="middle">2000</text>
<text transform="translate(943.50,716.3) scale(0.935,1)" font-size="36" text-anchor="middle">2250</text>
<text transform="translate(172.09,69.4) scale(0.935,1)" font-size="36" text-anchor="middle">800</text>
<text transform="translate(326.19,69.4) scale(0.935,1)" font-size="36" text-anchor="middle">400</text>
<text transform="translate(479.70,69.4) scale(0.935,1)" font-size="36" text-anchor="middle">267</text>
<text transform="translate(634.37,69.4) scale(0.935,1)" font-size="36" text-anchor="middle">200</text>
<text transform="translate(788.47,69.4) scale(0.935,1)" font-size="36" text-anchor="middle">160</text>
<text transform="translate(944.88,69.4) scale(0.935,1)" font-size="36" text-anchor="middle">133</text>
<text x="132.50" y="88.40" font-size="26" text-anchor="end">0</text>
<text transform="translate(120.47,101.10) scale(0.935,1)" font-size="36" text-anchor="end">10</text>
<text x="132.50" y="147.30" font-size="26" text-anchor="end">1</text>
<rect x="102.89" y="139.30" width="15.6" height="1.8" fill="#000"/>
<text transform="translate(101.17,160.00) scale(0.935,1)" font-size="36" text-anchor="end">10</text>
<text x="132.50" y="206.20" font-size="26" text-anchor="end">2</text>
<rect x="101.74" y="198.20" width="15.6" height="1.8" fill="#000"/>
<text transform="translate(100.02,218.90) scale(0.935,1)" font-size="36" text-anchor="end">10</text>
<text x="132.50" y="265.10" font-size="26" text-anchor="end">3</text>
<rect x="101.85" y="257.10" width="15.6" height="1.8" fill="#000"/>
<text transform="translate(100.13,277.80) scale(0.935,1)" font-size="36" text-anchor="end">10</text>
<text x="132.50" y="324.00" font-size="26" text-anchor="end">4</text>
<rect x="101.12" y="316.00" width="15.6" height="1.8" fill="#000"/>
<text transform="translate(99.40,336.70) scale(0.935,1)" font-size="36" text-anchor="end">10</text>
<text x="132.50" y="382.90" font-size="26" text-anchor="end">5</text>
<rect x="102.11" y="374.90" width="15.6" height="1.8" fill="#000"/>
<text transform="translate(100.39,395.60) scale(0.935,1)" font-size="36" text-anchor="end">10</text>
<text x="132.50" y="441.80" font-size="26" text-anchor="end">6</text>
<rect x="101.72" y="433.80" width="15.6" height="1.8" fill="#000"/>
<text transform="translate(100.00,454.50) scale(0.935,1)" font-size="36" text-anchor="end">10</text>
<text x="132.50" y="500.70" font-size="26" text-anchor="end">7</text>
<rect x="102.32" y="492.70" width="15.6" height="1.8" fill="#000"/>
<text transform="translate(100.60,513.40) scale(0.935,1)" font-size="36" text-anchor="end">10</text>
<text x="132.50" y="559.60" font-size="26" text-anchor="end">8</text>
<rect x="101.59" y="551.60" width="15.6" height="1.8" fill="#000"/>
<text transform="translate(99.87,572.30) scale(0.935,1)" font-size="36" text-anchor="end">10</text>
<text x="132.50" y="618.50" font-size="26" text-anchor="end">9</text>
<rect x="101.43" y="610.50" width="15.6" height="1.8" fill="#000"/>
<text transform="translate(99.71,631.20) scale(0.935,1)" font-size="36" text-anchor="end">10</text>
<text x="132.50" y="677.40" font-size="26" text-anchor="end">10</text>
<rect x="89.89" y="669.40" width="15.6" height="1.8" fill="#000"/>
<text transform="translate(88.17,690.10) scale(0.935,1)" font-size="36" text-anchor="end">10</text>
<text x="571.60" y="751.2" font-size="38.5" font-weight="bold" text-anchor="middle">Frequency (THz)</text>
<text x="571.60" y="36.5" font-size="39" font-weight="bold" text-anchor="middle">Wavelength (nm)</text>
<text transform="translate(39.2,381.15) rotate(-90)" font-size="39.8" font-weight="bold" text-anchor="middle">Intensity (a.u.)</text>
</svg></body></html>
